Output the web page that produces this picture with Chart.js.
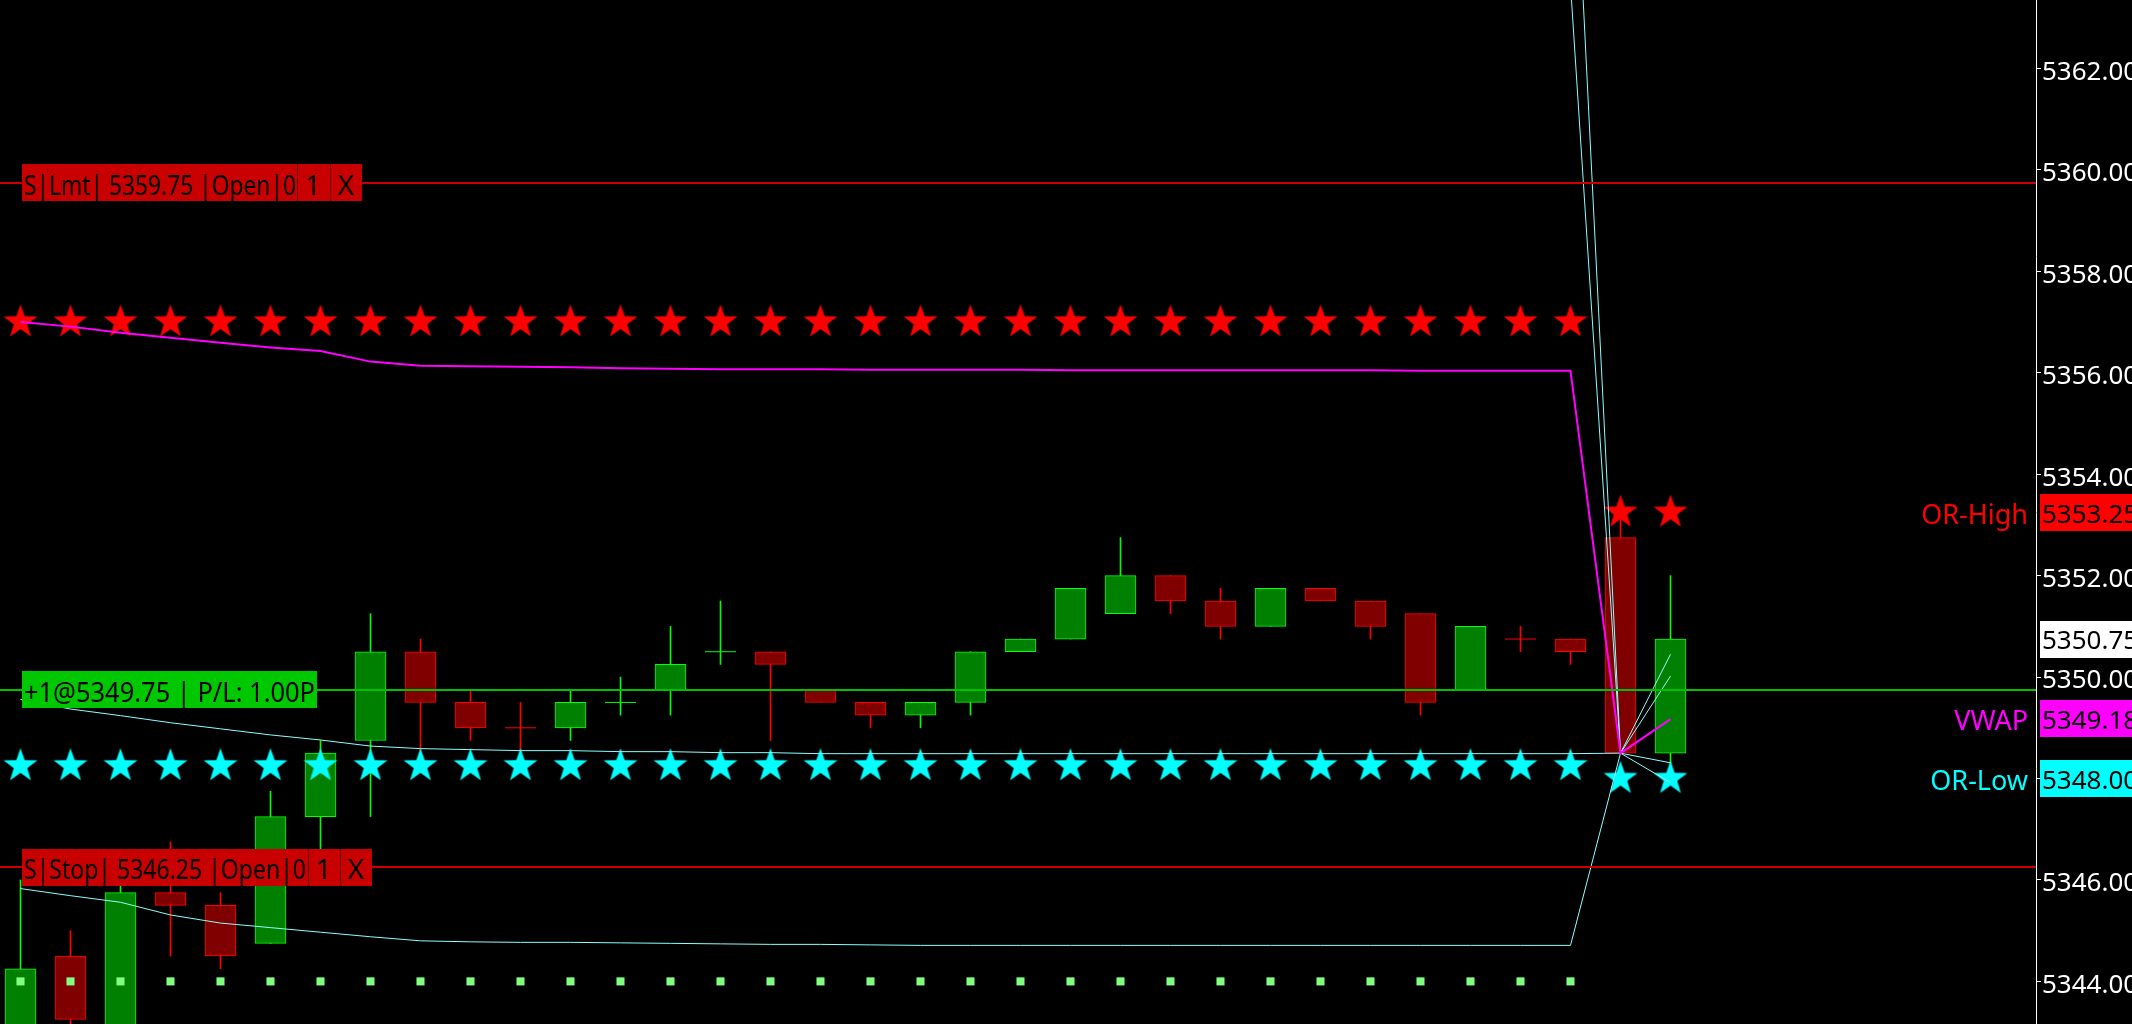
<!DOCTYPE html>
<html>
<head>
<meta charset="utf-8">
<title>ES 1 min - OR / VWAP</title>
<script src="https://cdn.jsdelivr.net/npm/chart.js@4.4.1/dist/chart.umd.min.js"></script>
<style>
    html, body { margin: 0; padding: 0; background: #000; overflow: hidden; }
    #wrap { width: 2132px; height: 1024px; position: relative; background: #000; }
</style>
</head>
<body>
<div id="wrap"><canvas id="priceChart"></canvas></div>
<script>
/* Candles (one per bar, index 0..33) */
const opens  = [5342.75, 5344.50, 5343.00, 5345.75, 5345.50, 5344.75, 5347.25, 5348.75, 5350.50, 5349.50,
                5349.00, 5349.00, 5349.50, 5349.75, 5350.50, 5350.50, 5349.75, 5349.50, 5349.25, 5349.50,
                5350.50, 5350.75, 5351.25, 5352.00, 5351.50, 5351.00, 5351.75, 5351.50, 5351.25, 5349.75,
                5350.75, 5350.75, 5352.75, 5348.50];
const highs  = [5346.00, 5345.00, 5346.00, 5346.75, 5345.75, 5347.75, 5348.75, 5351.25, 5350.75, 5349.75,
                5349.50, 5349.75, 5350.00, 5351.00, 5351.50, 5350.50, 5349.75, 5349.50, 5349.50, 5350.50,
                5350.75, 5351.75, 5352.75, 5352.00, 5351.75, 5351.75, 5351.75, 5351.50, 5351.25, 5351.00,
                5351.00, 5350.75, 5353.25, 5352.00];
const lows   = [5342.50, 5342.75, 5342.75, 5344.50, 5344.25, 5344.75, 5346.50, 5347.25, 5348.50, 5348.75,
                5348.50, 5348.75, 5349.25, 5349.25, 5350.25, 5348.75, 5349.50, 5349.00, 5349.00, 5349.25,
                5350.50, 5350.75, 5351.25, 5351.25, 5350.75, 5351.00, 5351.50, 5350.75, 5349.25, 5349.75,
                5350.50, 5350.25, 5348.50, 5348.25];
const closes = [5344.25, 5343.25, 5345.75, 5345.50, 5344.50, 5347.25, 5348.50, 5350.50, 5349.50, 5349.00,
                5349.00, 5349.50, 5349.50, 5350.25, 5350.50, 5350.25, 5349.50, 5349.25, 5349.50, 5350.50,
                5350.75, 5351.75, 5352.00, 5351.50, 5351.00, 5351.75, 5351.50, 5351.00, 5349.50, 5351.00,
                5350.75, 5350.50, 5348.50, 5350.75];
const dojiDown = [10, 30];   // dojis drawn in the down colour

/* VWAP and its bands */
const vwap     = [5357.00, 5356.91, 5356.79, 5356.69, 5356.59, 5356.50, 5356.43, 5356.22, 5356.14, 5356.13,
                  5356.12, 5356.11, 5356.09, 5356.08, 5356.07, 5356.07, 5356.07, 5356.06, 5356.06, 5356.06,
                  5356.06, 5356.05, 5356.05, 5356.05, 5356.05, 5356.05, 5356.05, 5356.05, 5356.04, 5356.04,
                  5356.04, 5356.04, 5348.50, 5349.17];
const bandUp1  = [5364.44, 5364.45, 5364.36, 5364.28, 5364.21, 5364.14, 5364.10, 5363.80, 5363.69, 5363.69,
                  5363.69, 5363.67, 5363.65, 5363.63, 5363.63, 5363.63, 5363.65, 5363.64, 5363.64, 5363.64,
                  5363.64, 5363.63, 5363.63, 5363.63, 5363.63, 5363.63, 5363.63, 5363.63, 5363.62, 5363.62,
                  5363.62, 5363.65, 5348.50, 5350.02];
const bandUp2  = [5368.17, 5368.12, 5368.02, 5368.07, 5368.03, 5367.94, 5367.89, 5367.56, 5367.48, 5367.48,
                  5367.47, 5367.45, 5367.42, 5367.41, 5367.40, 5367.41, 5367.41, 5367.40, 5367.41, 5367.41,
                  5367.41, 5367.39, 5367.39, 5367.39, 5367.39, 5367.39, 5367.39, 5367.39, 5367.37, 5367.37,
                  5367.37, 5368.40, 5348.50, 5350.45];
const bandDn1  = [5349.56, 5349.37, 5349.24, 5349.10, 5348.98, 5348.86, 5348.76, 5348.64, 5348.59, 5348.57,
                  5348.55, 5348.55, 5348.53, 5348.53, 5348.51, 5348.51, 5348.49, 5348.49, 5348.49, 5348.49,
                  5348.49, 5348.49, 5348.49, 5348.49, 5348.49, 5348.49, 5348.49, 5348.49, 5348.49, 5348.49,
                  5348.49, 5348.49, 5348.50, 5348.31];
const bandDn2  = [5345.83, 5345.69, 5345.56, 5345.31, 5345.15, 5345.06, 5344.97, 5344.88, 5344.80, 5344.78,
                  5344.77, 5344.77, 5344.76, 5344.75, 5344.74, 5344.73, 5344.73, 5344.72, 5344.71, 5344.71,
                  5344.71, 5344.71, 5344.71, 5344.71, 5344.71, 5344.71, 5344.71, 5344.71, 5344.71, 5344.71,
                  5344.71, 5344.71, 5348.50, 5347.92];

/* Opening range stars and signal dots */
const orHighStars = [5357.00, 5357.00, 5357.00, 5357.00, 5357.00, 5357.00, 5357.00, 5357.00, 5357.00, 5357.00,
                     5357.00, 5357.00, 5357.00, 5357.00, 5357.00, 5357.00, 5357.00, 5357.00, 5357.00, 5357.00,
                     5357.00, 5357.00, 5357.00, 5357.00, 5357.00, 5357.00, 5357.00, 5357.00, 5357.00, 5357.00,
                     5357.00, 5357.00, 5353.25, 5353.25];
const orLowStars  = [5348.25, 5348.25, 5348.25, 5348.25, 5348.25, 5348.25, 5348.25, 5348.25, 5348.25, 5348.25,
                     5348.25, 5348.25, 5348.25, 5348.25, 5348.25, 5348.25, 5348.25, 5348.25, 5348.25, 5348.25,
                     5348.25, 5348.25, 5348.25, 5348.25, 5348.25, 5348.25, 5348.25, 5348.25, 5348.25, 5348.25,
                     5348.25, 5348.25, 5348.00, 5348.00];
const signalDots  = [5344.00, 5344.00, 5344.00, 5344.00, 5344.00, 5344.00, 5344.00, 5344.00, 5344.00, 5344.00,
                     5344.00, 5344.00, 5344.00, 5344.00, 5344.00, 5344.00, 5344.00, 5344.00, 5344.00, 5344.00,
                     5344.00, 5344.00, 5344.00, 5344.00, 5344.00, 5344.00, 5344.00, 5344.00, 5344.00, 5344.00,
                     5344.00, 5344.00];

/* Orders / position lines */
const orderPrices = [5359.75, 5349.75, 5346.25];
const orderTexts  = ['S|Lmt| 5359.75 |Open|0', '+1@5349.75 | P/L: 1.00P', 'S|Stop| 5346.25 |Open|0'];
const orderKinds  = ['order', 'position', 'order'];

/* Price markers on the axis */
const markerPrices = [5353.25, 5350.75, 5349.18, 5348.00];
const markerNames  = ['OR-High', '', 'VWAP', 'OR-Low'];
const markerColors = ['#ff0000', '#ffffff', '#ff00ff', '#00ffff'];

/* Axis range */
const yMin = 5343.16;
const yMax = 5363.35;
const yStep = 2;
const xMin = -0.41;
const xMax = 40.31;

const FONT = '"Noto Sans", "Open Sans", sans-serif';
const UP_FILL = '#008000', UP_LINE = '#00ff00';
const DN_FILL = '#800000', DN_LINE = '#ff0000';

function makeStar(color) {
    const c = document.createElement('canvas');
    c.width = 38;
    c.height = 38;
    const g = c.getContext('2d');
    g.fillStyle = color;
    g.beginPath();
    for (let k = 0; k < 10; k++) {
        const r = k % 2 ? 7.1 : 17.8;
        const a = -Math.PI / 2 + k * Math.PI / 5;
        g.lineTo(19 + r * Math.cos(a), 19 + r * Math.sin(a));
    }
    g.closePath();
    g.fill();
    return c;
}

function isUp(i) {
    if (closes[i] === opens[i]) return dojiDown.indexOf(i) === -1;
    return closes[i] > opens[i];
}

const idx = opens.map((_, i) => i);
const wickData = idx.map(i => ({ x: i, y: [lows[i], highs[i]] }));
const bodyData = idx.map(i => ({ x: i, y: opens[i] === closes[i] ? null : [opens[i], closes[i]] }));
const dojiData = idx.filter(i => opens[i] === closes[i]).map(i => ({ x: i, y: opens[i] }));
const toPoints = arr => arr.map((v, i) => ({ x: i, y: v }));

// horizontal order lines + labels + axis markers
const overlayPlugin = {
    id: 'overlay',
    afterDatasetsDraw(chart) {
        const ctx = chart.ctx;
        const area = chart.chartArea;
        const y = chart.scales.y;
        ctx.save();
        orderPrices.forEach((p, k) => {
            const py = Math.round(y.getPixelForValue(p));
            ctx.strokeStyle = orderKinds[k] === 'position' ? '#00c000' : '#cc0000';
            ctx.lineWidth = 2;
            ctx.beginPath();
            ctx.moveTo(area.left, py);
            ctx.lineTo(area.right, py);
            ctx.stroke();
        });
        ctx.restore();
    },
    afterDraw(chart) {
        const ctx = chart.ctx;
        const y = chart.scales.y;
        ctx.save();
        ctx.textBaseline = 'alphabetic';

        // order / position tags on the left
        const tagLayout = [
            { right: 362, textEnd: 296, seps: [297, 329.5], one: 313, ex: 346 },
            { right: 317, textEnd: 315, seps: [], one: null, ex: null },
            { right: 372, textEnd: 306, seps: [307.5, 339.5], one: 323.5, ex: 356 }
        ];
        ctx.font = '28px ' + FONT;
        orderPrices.forEach((p, k) => {
            const cy = y.getPixelForValue(p);
            const L = tagLayout[k];
            const top = Math.round(cy - 18.5);
            const base = cy + 12;
            ctx.fillStyle = orderKinds[k] === 'position' ? '#00c800' : '#c80000';
            ctx.fillRect(22, top, L.right - 22, 37);
            ctx.fillStyle = '#000';
            ctx.textAlign = 'left';
            ctx.fillText(orderTexts[k], 24, base, L.textEnd - 24);
            if (L.seps.length) {
                ctx.fillStyle = '#6a0000';
                L.seps.forEach(sx => ctx.fillRect(Math.round(sx), top, 1, 37));
                ctx.fillStyle = '#000';
                ctx.textAlign = 'center';
                ctx.fillText('1', L.one, base);
                ctx.fillText('X', L.ex, base);
            }
        });

        // price markers on the axis
        markerPrices.forEach((p, k) => {
            const cy = y.getPixelForValue(p);
            const top = Math.round(cy - 18.5);
            ctx.fillStyle = markerColors[k];
            ctx.fillRect(2040, top, chart.width - 2040, 37);
            ctx.font = '26px ' + FONT;
            ctx.fillStyle = '#000';
            ctx.textAlign = 'left';
            ctx.fillText(p.toFixed(2), 2042, cy + 10.3);
            if (markerNames[k]) {
                ctx.font = '27px ' + FONT;
                ctx.fillStyle = markerColors[k];
                ctx.textAlign = 'right';
                ctx.fillText(markerNames[k], 2028, cy + 11.5);
            }
        });
        ctx.restore();
    }
};

document.addEventListener('DOMContentLoaded', function() {
    const redStar = makeStar('#ff0000');
    const cyanStar = makeStar('#00ffff');

    new Chart(document.getElementById('priceChart'), {
        type: 'bar',
        data: {
            datasets: [
                {
                    label: 'Wicks',
                    data: wickData,
                    grouped: false,
                    barThickness: 1,
                    backgroundColor: idx.map(i => isUp(i) ? UP_LINE : DN_LINE),
                    borderWidth: 0,
                    order: 9
                },
                {
                    label: 'Bodies',
                    data: bodyData,
                    grouped: false,
                    barThickness: 31,
                    backgroundColor: idx.map(i => isUp(i) ? UP_FILL : DN_FILL),
                    borderColor: idx.map(i => isUp(i) ? UP_LINE : DN_LINE),
                    borderWidth: 1,
                    borderSkipped: false,
                    order: 8
                },
                {
                    type: 'line',
                    label: 'Doji',
                    data: dojiData,
                    showLine: false,
                    pointStyle: 'line',
                    pointRadius: 15.5,
                    pointBorderWidth: 1,
                    pointBorderColor: dojiData.map(d => isUp(d.x) ? UP_LINE : DN_LINE),
                    order: 7
                },
                {
                    type: 'line',
                    label: 'Signal',
                    data: toPoints(signalDots),
                    showLine: false,
                    pointStyle: 'rect',
                    pointRadius: 5.7,
                    pointBackgroundColor: '#80ff80',
                    pointBorderWidth: 0,
                    order: 6
                },
                {
                    type: 'line',
                    label: 'OR High',
                    data: toPoints(orHighStars),
                    showLine: false,
                    pointStyle: redStar,
                    order: 5
                },
                {
                    type: 'line',
                    label: 'OR Low',
                    data: toPoints(orLowStars),
                    showLine: false,
                    pointStyle: cyanStar,
                    order: 5
                },
                { type: 'line', label: 'Band +2', data: toPoints(bandUp2), borderColor: '#8affff', borderWidth: 1, pointRadius: 0, tension: 0, order: 2 },
                { type: 'line', label: 'Band +1', data: toPoints(bandUp1), borderColor: '#8affff', borderWidth: 1, pointRadius: 0, tension: 0, order: 2 },
                { type: 'line', label: 'Band -1', data: toPoints(bandDn1), borderColor: '#8affff', borderWidth: 1, pointRadius: 0, tension: 0, order: 2 },
                { type: 'line', label: 'Band -2', data: toPoints(bandDn2), borderColor: '#8affff', borderWidth: 1, pointRadius: 0, tension: 0, order: 2 },
                { type: 'line', label: 'VWAP', data: toPoints(vwap), borderColor: '#ff00ff', borderWidth: 2, pointRadius: 0, tension: 0, order: 1 }
            ]
        },
        options: {
            responsive: true,
            maintainAspectRatio: false,
            animation: false,
            events: [],
            layout: { padding: 0, autoPadding: false },
            plugins: {
                legend: { display: false },
                tooltip: { enabled: false },
                title: { display: false }
            },
            scales: {
                x: {
                    type: 'linear',
                    min: xMin,
                    max: xMax,
                    offset: false,
                    display: false
                },
                y: {
                    type: 'linear',
                    position: 'right',
                    min: yMin,
                    max: yMax,
                    afterFit: function(scale) {
                        scale.width = 96;
                        scale.paddingTop = 0;
                        scale.paddingBottom = 0;
                    },
                    grid: { drawOnChartArea: false, drawTicks: true, tickLength: 5, color: '#ffffff' },
                    border: { display: true, color: '#ffffff', width: 1 },
                    ticks: {
                        stepSize: yStep,
                        includeBounds: false,
                        autoSkip: false,
                        color: '#ffffff',
                        padding: 1,
                        labelOffset: 4,
                        font: { family: FONT, size: 26 },
                        callback: v => Number(v).toFixed(2)
                    }
                }
            }
        },
        plugins: [overlayPlugin]
    });
});
</script>
</body>
</html>
